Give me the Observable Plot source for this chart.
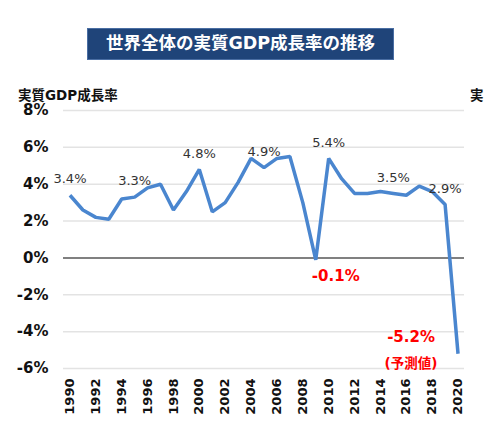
<!DOCTYPE html>
<html>
<head>
<meta charset="utf-8">
<script src="https://cdn.jsdelivr.net/npm/d3@7"></script>
<script src="https://cdn.jsdelivr.net/npm/@observablehq/plot@0.6"></script>
<style>
  html, body { margin: 0; padding: 0; background: #fff; }
  #wrap { position: relative; width: 484px; height: 442px; overflow: hidden;
          font-family: "DejaVu Sans", "Noto Sans CJK JP", sans-serif; }
  #title { position: absolute; left: 87px; top: 28px; width: 305px; height: 30px;
           background: #1F4479; border: 1px solid #4a6ea3; color: #fff;
           font: bold 17.5px/1 "DejaVu Sans", "Noto Sans CJK JP", sans-serif;
           display: flex; align-items: center; justify-content: center; z-index: 2; }
  .head { position: absolute; top: 88px; height: 15px; font: bold 13.5px/15px "DejaVu Sans", "Noto Sans CJK JP", sans-serif;
          color: #111; z-index: 2; white-space: nowrap; }
  #chart { position: absolute; left: 0; top: 0; }
</style>
</head>
<body>
<div id="wrap">
  <div id="title">世界全体の実質GDP成長率の推移</div>
  <div class="head" style="left:18px">実質GDP成長率</div>
  <div class="head" style="left:470px">実</div>
  <div id="chart"></div>
</div>
<script>
// World real GDP growth, % per year (2020 is a forecast)
const years = [1990, 1991, 1992, 1993, 1994, 1995, 1996, 1997, 1998, 1999,
               2000, 2001, 2002, 2003, 2004, 2005, 2006, 2007, 2008, 2009,
               2010, 2011, 2012, 2013, 2014, 2015, 2016, 2017, 2018, 2019, 2020];
const growth = [3.4, 2.6, 2.2, 2.1, 3.2, 3.3, 3.8, 4.0, 2.6, 3.6,
                4.8, 2.5, 3.0, 4.1, 5.4, 4.9, 5.4, 5.5, 3.0, -0.1,
                5.4, 4.3, 3.5, 3.5, 3.6, 3.5, 3.4, 3.9, 3.6, 2.9, -5.2];
const labeledYears = [1990, 1995, 2000, 2005, 2010, 2015, 2019];
const yTicks = [-6, -4, -2, 0, 2, 4, 6, 8];
const xTicks = d3.range(1990, 2021, 2);
const forecastNote = "(予測値)";

const data = years.map((year, i) => ({year, value: growth[i]}));
const fmt = v => `${v.toFixed(1)}%`;
const labeled = data.filter(d => labeledYears.includes(d.year));
const trough = data.filter(d => d.year === 2009);
const forecast = data.filter(d => d.year === 2020);

const font = `"DejaVu Sans", "Noto Sans CJK JP", sans-serif`;

const chart = Plot.plot({
  width: 484,
  height: 442,
  marginLeft: 63,
  marginRight: 20,
  marginTop: 110,
  marginBottom: 74,
  style: {fontFamily: font, background: "transparent", overflow: "visible"},
  x: {domain: [1989.5, 2020.5]},
  y: {domain: [-6, 8]},
  marks: [
    Plot.ruleY(yTicks.filter(t => t !== 0), {stroke: "#e3e3e3", strokeWidth: 1.5}),
    Plot.ruleY([0], {stroke: "#808080", strokeWidth: 2}),
    Plot.axisY({ticks: yTicks, tickSize: 0, tickPadding: 15, tickFormat: d => `${d}%`,
                fontSize: 15, fontWeight: "bold", fill: "#111", label: null}),
    Plot.axisX({ticks: xTicks, tickSize: 0, tickPadding: 10, tickRotate: -90,
                tickFormat: d => String(d), fontSize: 13, fontWeight: "bold", fill: "#111", label: null}),
    Plot.lineY(data, {x: "year", y: "value", stroke: "#4a86cf", strokeWidth: 3.5,
                      strokeLinejoin: "miter", strokeLinecap: "butt"}),
    Plot.text(labeled, {x: "year", y: "value", text: d => fmt(d.value), dy: -16,
                        fontSize: 13, fill: "#333"}),
    Plot.text(trough, {x: "year", y: "value", text: d => fmt(d.value), dx: 20, dy: 16,
                       fontSize: 15, fontWeight: "bold", fill: "#ff0000"}),
    Plot.text(forecast, {x: "year", y: "value", text: d => fmt(d.value), dx: -47, dy: -17,
                         fontSize: 15, fontWeight: "bold", fill: "#ff0000"}),
    Plot.text(forecast, {x: "year", y: "value", text: () => forecastNote, dx: -47, dy: 10,
                         fontSize: 13.5, fontWeight: "bold", fill: "#ff0000"})
  ]
});
document.getElementById("chart").appendChild(chart);
</script>
</body>
</html>
